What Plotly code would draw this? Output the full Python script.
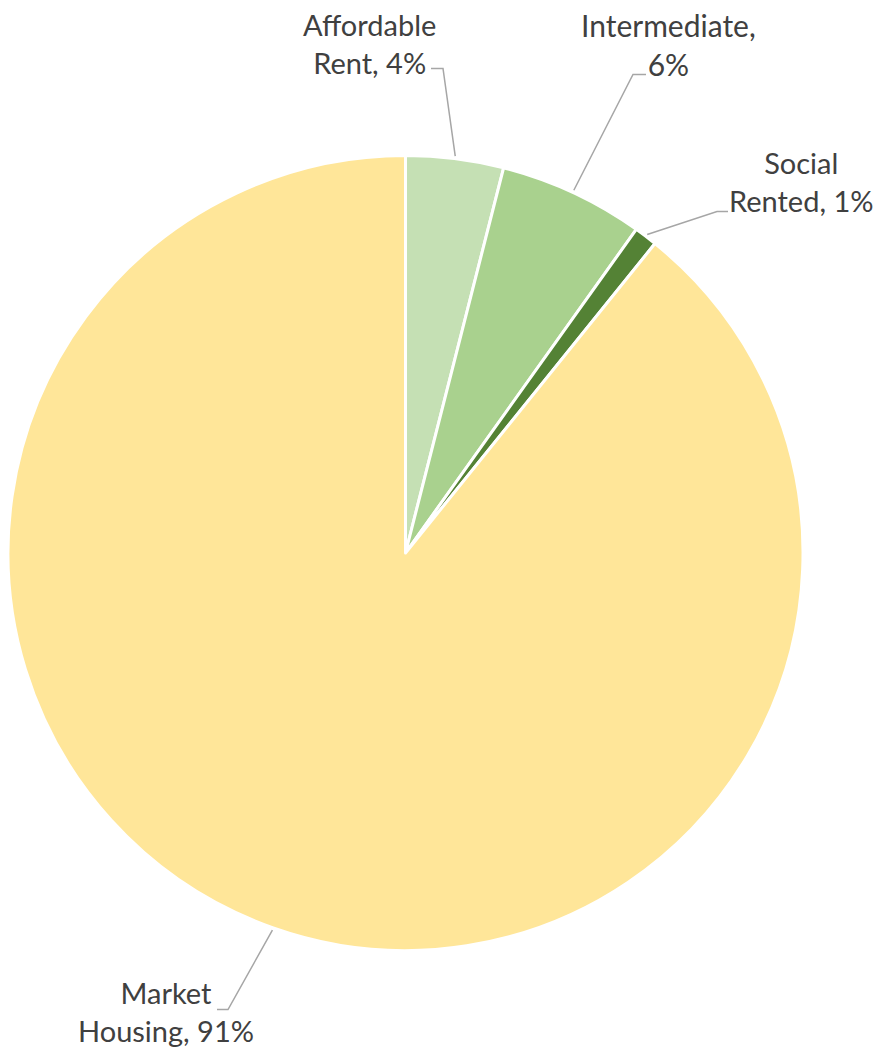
import math
import plotly.graph_objects as go

# ---- data ----
categories = ["Affordable Rent", "Intermediate", "Social Rented", "Market Housing"]
shares = [3.97, 5.89, 0.94, 89.2]          # slice sizes
label_pct = ["4%", "6%", "1%", "91%"]      # percentages printed on the labels
label_text = ["Affordable<br>Rent, 4%", "Intermediate,<br>6%",
              "Social<br>Rented, 1%", "Market<br>Housing, 91%"]
colors = ["#C5E0B4", "#A9D18E", "#548235", "#FFE699"]

# page body has an 8px margin, so the figure is drawn 8px in from the corner
OFF = 8
W, H = 881 - 2 * OFF, 1058 - 2 * OFF
CX, CY, R = 405.5, 553.0, 397.5

def px(x):
    return (x - OFF) / W

def py(y):
    return 1 - (y - OFF) / H

fig = go.Figure(go.Pie(
    labels=categories, values=shares, sort=False, direction="clockwise",
    rotation=0, textinfo="none", hoverinfo="label+percent",
    marker=dict(colors=colors, line=dict(color="white", width=3)),
    domain=dict(x=[px(CX - R), px(CX + R)], y=[py(CY + R), py(CY - R)]),
    showlegend=False,
))

# label layout (pixel positions of elbow, line end, text centre)
elbows = [(443, 68.5), (633, 74.5), (717, 211.5), (228, 1009.5)]
ends = [(431, 68.5), (646, 74.5), (728, 211.5), (217, 1009.5)]
text_pos = [(369, 44), (668, 45), (801, 181), (166, 1011)]
text_size = [29, 30, 29, 29]

total = sum(shares)
cum = 0.0
shapes, annotations = [], []
for i, v in enumerate(shares):
    mid = (cum + v / 2) / total * 2 * math.pi
    cum += v
    ax = CX + R * 1.006 * math.sin(mid)
    ay = CY - R * 1.006 * math.cos(mid)
    ex, ey = elbows[i]
    tx, ty = ends[i]
    shapes.append(dict(
        type="path", xref="paper", yref="paper",
        path=f"M {px(ax)},{py(ay)} L {px(ex)},{py(ey)} L {px(tx)},{py(ty)}",
        line=dict(color="#A6A6A6", width=1.5),
    ))
    annotations.append(dict(
        x=px(text_pos[i][0]), y=py(text_pos[i][1]), xref="paper", yref="paper",
        text=label_text[i], showarrow=False, xanchor="center", yanchor="middle",
        align="center", borderpad=0,
        font=dict(family="Lato", size=text_size[i], color="#404040"),
    ))

fig.update_layout(
    width=W, height=H, margin=dict(l=0, r=0, t=0, b=0),
    paper_bgcolor="white", plot_bgcolor="white",
    shapes=shapes, annotations=annotations,
)

fig.write_html("out.html")
